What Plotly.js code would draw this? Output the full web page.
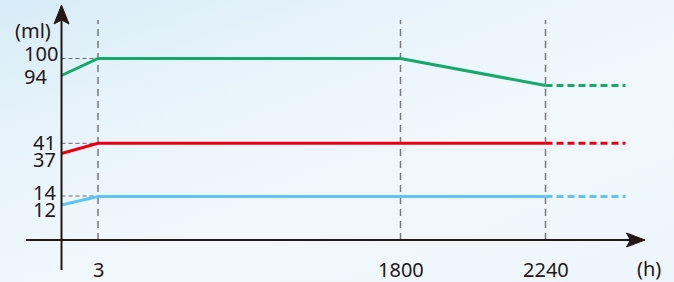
<!DOCTYPE html>
<html>
<head>
<meta charset="utf-8">
<script src="https://cdn.plot.ly/plotly-3.0.1.min.js"></script>
<style>
  html, body { margin: 0; padding: 0; }
  #chart {
    width: 674px; height: 282px;
    background: linear-gradient(160deg, #d8ecf7 0%, #e8f4fb 30%, #f1f8fc 60%, #eef6fb 100%);
  }
</style>
</head>
<body>
<div id="chart"></div>
<script>
// Schematic chart: axis coordinates are schematic positions (not to scale), labels carry the values.
const xTickLabels = ['3', '1800', '2240'];
const xTickPos = [36.5, 339, 484];
const extEndPos = 564;

const yTickLabels = ['100', '94', '41', '37', '14', '12'];
const yLabelPos = [187, 164, 98, 81, 48, 31];
const yLabelX = [-39, -39, -30, -30, -30, -30];

// series in schematic positions: start (t=0), t=3, ..., t=2240
const greenX = [0, 36.5, 339, 484];
const greenY = [164.5, 181.5, 181.5, 154.5];
const redX = [0, 36.5, 484];
const redY = [86.5, 96.7, 96.7];
const blueX = [0, 36.5, 484];
const blueY = [35, 43.5, 43.5];

const guideLevels = [181.5, 96.7, 44];  // 100, 41, 14 guides

const GREEN = '#17a86b', RED = '#e60012', BLUE = '#5fc3f6', INK = '#231815';

function solid(x, y, c) {
  return {x: x, y: y, mode: 'lines', line: {color: c, width: 3}, hoverinfo: 'skip', showlegend: false};
}
function ext(x, y, c) {
  const lx = x[x.length - 1], ly = y[y.length - 1];
  return {x: [lx, extEndPos], y: [ly, ly], mode: 'lines', line: {color: c, width: 3, dash: '7px,4px'}, hoverinfo: 'skip', showlegend: false};
}

const traces = [
  solid(greenX, greenY, GREEN), ext(greenX, greenY, GREEN),
  solid(redX, redY, RED), ext(redX, redY, RED),
  solid(blueX, blueY, BLUE), ext(blueX, blueY, BLUE)
];

const shapes = [];
// vertical dashed guides
xTickPos.forEach(p => shapes.push({type: 'line', x0: p, x1: p, y0: 0, y1: 220, line: {color: '#7a7a7a', width: 1.5, dash: '7px,5px'}, layer: 'below'}));
// horizontal dashed guides
guideLevels.forEach(v => shapes.push({type: 'line', x0: 0, x1: xTickPos[0], y0: v, y1: v, line: {color: '#666', width: 1, dash: '4px,3px'}, layer: 'below'}));
// axes
shapes.push({type: 'line', x0: 0, x1: 0, y0: -30, y1: 222, line: {color: INK, width: 2}});
shapes.push({type: 'line', x0: -35.5, x1: 570, y0: 0, y1: 0, line: {color: INK, width: 2}});
// arrowheads
shapes.push({type: 'path', path: 'M 0 235 L -7.5 216 L 0 220 L 7.5 216 Z', fillcolor: INK, line: {color: INK, width: 1}});
shapes.push({type: 'path', path: 'M 583.5 0 L 565 -7 L 569 0 L 565 7 Z', fillcolor: INK, line: {color: INK, width: 1}});

const FONT = {family: 'Noto Sans, DejaVu Sans, sans-serif', size: 20, color: INK};
const annotations = [];
yTickLabels.forEach((t, i) => annotations.push({x: yLabelX[i], y: yLabelPos[i], text: t, showarrow: false, xanchor: 'left', yanchor: 'middle', height: 15, borderpad: 0, font: FONT}));
xTickLabels.forEach((t, i) => annotations.push({x: xTickPos[i], y: -29, text: t, showarrow: false, xanchor: 'center', yanchor: 'middle', font: FONT}));
annotations.push({x: -49, y: 210, text: '(ml)', showarrow: false, xanchor: 'left', yanchor: 'middle', font: FONT});
annotations.push({x: 587, y: -28, text: '(h)', showarrow: false, xanchor: 'center', yanchor: 'middle', font: FONT});

const layout = {
  width: 674, height: 282,
  margin: {l: 0, r: 0, t: 0, b: 0},
  paper_bgcolor: 'rgba(0,0,0,0)', plot_bgcolor: 'rgba(0,0,0,0)',
  xaxis: {range: [-61.5, 612.5], visible: false, fixedrange: true},
  yaxis: {range: [-42, 240], visible: false, fixedrange: true},
  shapes: shapes, annotations: annotations, showlegend: false
};

Plotly.newPlot('chart', traces, layout, {displayModeBar: false, staticPlot: true});
</script>
</body>
</html>
